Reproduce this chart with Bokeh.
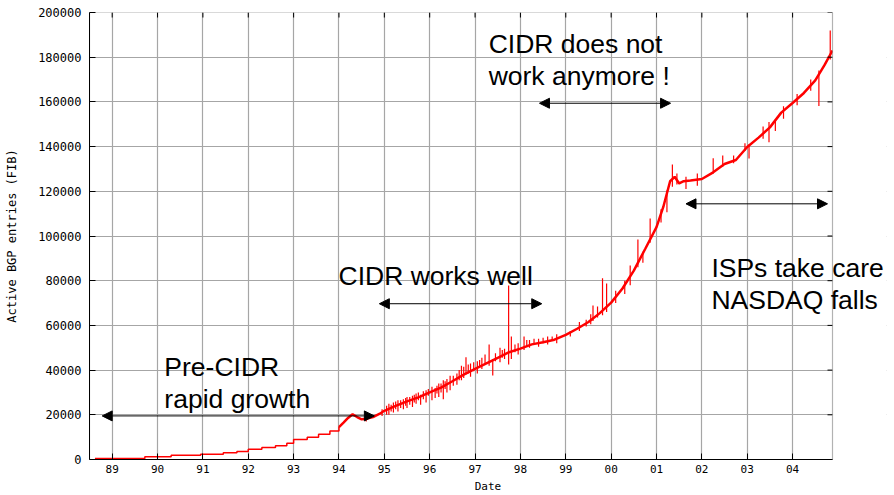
from bokeh.plotting import figure
from bokeh.models import (Range1d, FixedTicker, Label, Arrow, NormalHead,
                          PrintfTickFormatter, BoxAnnotation)
from bokeh.embed import file_html
from bokeh.resources import INLINE

# ---------------- data ----------------
year_ticks = [1989, 1990, 1991, 1992, 1993, 1994, 1995, 1996, 1997, 1998, 1999,
              2000, 2001, 2002, 2003, 2004]
year_labels = ["89", "90", "91", "92", "93", "94", "95", "96", "97", "98", "99",
               "00", "01", "02", "03", "04"]
y_ticks = [0, 20000, 40000, 60000, 80000, 100000, 120000, 140000, 160000, 180000, 200000]

x_start, x_end = 1988.5, 2004.88      # plotted date span
y_start, y_end = 0, 200000

# early period (stepped updates)
early_x = [1988.62, 1989.72, 1990.3, 1990.95, 1991.45, 1991.75, 1992.0, 1992.3,
           1992.6, 1992.85, 1993.0, 1993.3, 1993.55, 1993.8, 1994.0]
early_y = [500, 1200, 1900, 2400, 3000, 3600, 4600, 5400, 6100, 7300, 8900, 9900,
           11300, 12800, 14500]

# later period (daily tables, shown as a continuous line)
main_x = [1994.0, 1994.1, 1994.2, 1994.3, 1994.4, 1994.5, 1994.6, 1994.75, 1994.9,
          1995.0, 1995.25, 1995.5, 1995.75, 1996.0, 1996.25, 1996.5, 1996.75, 1997.0,
          1997.25, 1997.5, 1997.75, 1998.0, 1998.25, 1998.5, 1998.75, 1999.0, 1999.25,
          1999.5, 1999.75, 2000.0, 2000.25, 2000.5, 2000.75, 2001.0, 2001.15, 2001.3,
          2001.4, 2001.5, 2001.6, 2001.75, 2002.0, 2002.25, 2002.5, 2002.75, 2003.0,
          2003.25, 2003.5, 2003.75, 2004.0, 2004.25, 2004.5, 2004.7, 2004.88]
main_y = [14500, 16500, 18600, 20200, 19000, 18000, 18200, 19000, 20500,
          21800, 24000, 26000, 27800, 30000, 32200, 35000, 38000, 40500,
          43000, 45500, 48000, 49600, 51500, 52500, 53600, 55800, 58500,
          61500, 65500, 70200, 76500, 84500, 94200, 104000, 113000, 124500,
          126500, 123500, 124500, 124800, 125500, 128500, 132200, 134000, 139800,
          144000, 148600, 155200, 159500, 164000, 169600, 176300, 183000]

# short-lived spikes in the table size (date, low, high)
spike_x = [1994.6, 1994.95, 1995.05, 1995.1, 1995.15, 1995.2, 1995.25, 1995.3, 1995.36,
           1995.42, 1995.47, 1995.5, 1995.56, 1995.62, 1995.66, 1995.7, 1995.75, 1995.8,
           1995.86, 1995.92, 1995.97, 1996.05, 1996.12, 1996.16, 1996.2, 1996.25, 1996.3,
           1996.34, 1996.38, 1996.45, 1996.52, 1996.6, 1996.65, 1996.7, 1996.75, 1996.8,
           1996.85, 1996.9, 1996.97, 1997.05, 1997.1, 1997.15, 1997.22, 1997.31, 1997.39,
           1997.45, 1997.55, 1997.6, 1997.65, 1997.74, 1997.8, 1997.88, 1997.95, 1998.08,
           1998.14, 1998.2, 1998.3, 1998.4, 1998.5, 1998.6, 1998.7, 1998.8, 1999.1,
           1999.3, 1999.45, 1999.55, 1999.6, 1999.7, 1999.81, 1999.9, 2000.1, 2000.3,
           2000.42, 2000.59, 2000.7, 2000.86, 2001.1, 2001.23, 2001.35, 2001.45, 2001.65,
           2001.9, 2002.25, 2002.46, 2002.7, 2002.95, 2003.04, 2003.35, 2003.48, 2003.62,
           2003.8, 2004.1, 2004.4, 2004.58, 2004.83]
spike_lo = [17000, 19500, 20000, 20000, 21500, 21000, 22500, 21500, 23000,
            22500, 24000, 23000, 24500, 23500, 25500, 25000, 26500, 24500,
            27000, 25500, 28500, 26500, 27500, 29500, 28000, 30000, 27000,
            31500, 30000, 31000, 33000, 33500, 35500, 35500, 36500, 38000,
            38500, 37000, 39500, 38500, 41000, 40500, 42500, 42000, 37600,
            44000, 43500, 45500, 45000, 42500, 45000, 48000, 47000, 49000,
            50500, 50000, 51500, 50500, 52000, 51500, 53000, 52000, 55000,
            57500, 59500, 60500, 62000, 63500, 64500, 66000, 70000, 74000,
            78000, 86000, 88000, 97000, 106000, 110600, 122000, 123000, 121000,
            122500, 128000, 131000, 132500, 138000, 134700, 143500, 142000, 147000,
            152500, 158500, 165000, 158200, 179000]
spike_hi = [19500, 22500, 24000, 25000, 24500, 25500, 26000, 26500, 26500,
            27000, 27500, 28000, 28000, 28500, 29000, 29500, 30000, 29000,
            30500, 31000, 31500, 32500, 32000, 33000, 34000, 34000, 35500,
            35000, 36000, 37500, 37500, 38500, 40000, 42000, 41500, 45800,
            42500, 43000, 43500, 44000, 44500, 45500, 47000, 51400, 45000,
            47500, 50000, 49000, 49500, 77900, 55000, 51500, 52000, 55000,
            53500, 53500, 54000, 54000, 54500, 55000, 55000, 56000, 57500,
            61500, 62500, 65000, 68900, 68500, 81100, 78700, 75500, 80000,
            86800, 98400, 93000, 107800, 112000, 120400, 132000, 128000, 126500,
            128000, 134800, 136000, 136000, 141500, 141000, 149000, 151000, 152000,
            158000, 163500, 170000, 174000, 192000]

notes = ["CIDR does not\nwork anymore !", "CIDR works well",
         "Pre-CIDR\nrapid growth", "ISPs take care\nNASDAQ falls"]

# ---------------- figure ----------------
# the frame is wider than the plotted span so that the last note can overhang it
px_per_year = 743 / (x_end - x_start)
p = figure(width=894, height=495, output_backend="svg", toolbar_location=None,
           x_range=Range1d(x_start, x_start + 797 / px_per_year),
           y_range=Range1d(y_start, y_end),
           min_border_left=89, min_border_right=8, min_border_top=12,
           min_border_bottom=36, background_fill_color="white",
           border_fill_color="white")
p.outline_line_color = None

mono = "DejaVu Sans Mono"

xa = p.xaxis[0]
xa.ticker = FixedTicker(ticks=year_ticks, minor_ticks=[])
xa.bounds = (x_start, x_end)
xa.major_label_overrides = {t: l for t, l in zip(year_ticks, year_labels)}
xa.major_label_text_font = mono
xa.major_label_text_font_size = "11px"
xa.major_label_text_color = "black"
xa.major_label_standoff = 5
xa.major_tick_in = 6
xa.major_tick_out = 0
xa.minor_tick_line_color = None
xa.axis_line_color = "black"
xa.major_tick_line_color = "black"
xa.axis_label = "Date"
xa.axis_label_text_font = mono
xa.axis_label_text_font_size = "11px"
xa.axis_label_text_font_style = "normal"
xa.axis_label_text_color = "black"
xa.axis_label_standoff = 4

ya = p.yaxis[0]
ya.ticker = FixedTicker(ticks=y_ticks, minor_ticks=[])
ya.formatter = PrintfTickFormatter(format="%d")
ya.major_label_text_font = mono
ya.major_label_text_font_size = "12px"
ya.major_label_text_color = "black"
ya.major_label_standoff = 8
ya.major_tick_in = 6
ya.major_tick_out = 0
ya.minor_tick_line_color = None
ya.axis_line_color = "black"
ya.major_tick_line_color = "black"
ya.axis_label = "Active BGP entries (FIB)"
ya.axis_label_text_font = mono
ya.axis_label_text_font_size = "12px"
ya.axis_label_text_font_style = "normal"
ya.axis_label_text_color = "black"
ya.axis_label_standoff = 16

for g, t in ((p.xgrid[0], year_ticks), (p.ygrid[0], y_ticks)):
    g.ticker = FixedTicker(ticks=t, minor_ticks=[])
    g.grid_line_color = "#a6a6a6"
    g.grid_line_width = 1.2

# blank out the grid beyond the plotted span
p.add_layout(BoxAnnotation(left=x_end, fill_color="white", fill_alpha=1,
                           line_color=None, level="glyph"))

# ---------------- data marks ----------------
p.step(early_x, early_y, mode="after", line_color="red", line_width=1.5)
p.line(main_x, main_y, line_color="red", line_width=2.5)
p.segment(x0=spike_x, y0=spike_lo, x1=spike_x, y1=spike_hi,
          line_color="red", line_width=1.2)

# mirrored tick marks on the top and right edges
tick_dx = 5 / px_per_year
tick_dy = 5 * (y_end - y_start) / 447
p.segment(x0=year_ticks, y0=[y_end] * len(year_ticks), x1=year_ticks,
          y1=[y_end - tick_dy] * len(year_ticks), line_color="black", line_width=1)
p.segment(x0=[x_end] * len(y_ticks), y0=y_ticks, x1=[x_end - tick_dx] * len(y_ticks),
          y1=y_ticks, line_color="black", line_width=1)

# frame of the plotted span
p.add_layout(BoxAnnotation(left=x_start, right=x_end, bottom=y_start, top=y_end,
                           fill_alpha=0, line_color="black", line_width=1.2,
                           level="annotation"))

# ---------------- annotations ----------------
arrows = [(1998.42, 159400, 2001.31, 159400),
          (1994.89, 69700, 1998.47, 69700),
          (1988.78, 19500, 1994.78, 19500),
          (2001.65, 114400, 2004.77, 114400)]
for xs, ys, xe, ye in arrows:
    p.add_layout(Arrow(x_start=xs, y_start=ys, x_end=xe, y_end=ye,
                       line_color="black", line_width=1,
                       start=NormalHead(size=10, fill_color="black", line_color="black"),
                       end=NormalHead(size=10, fill_color="black", line_color="black")))

label_pos = [(1997.30, 192600), (1993.99, 88600), (1990.15, 47900), (2002.21, 92200)]
for txt, (lx, ly) in zip(notes, label_pos):
    p.add_layout(Label(x=lx, y=ly, text=txt, text_font="Liberation Sans",
                       text_font_size="26.5px", text_color="black",
                       text_baseline="top", text_align="left", text_line_height=1.05))

open("out.html", "w").write(file_html(p, INLINE))
